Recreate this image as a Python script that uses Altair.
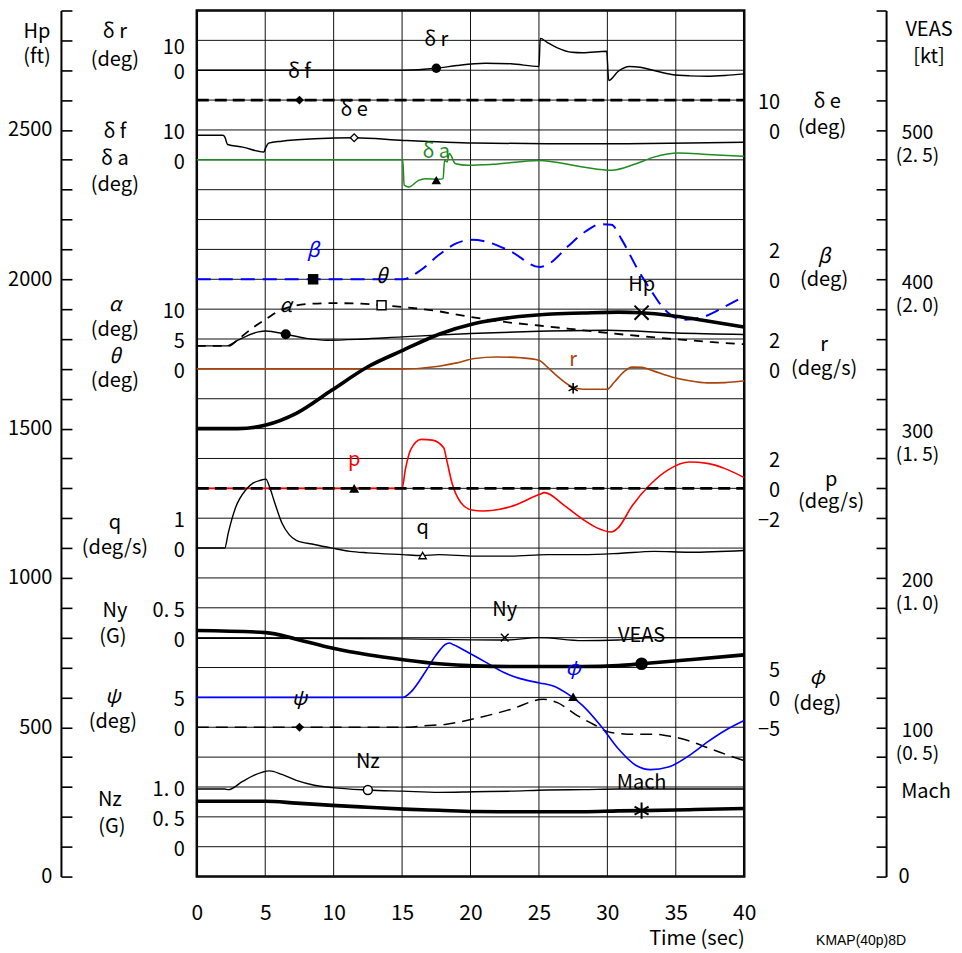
import altair as alt
import pandas as pd

FONT = "Noto Sans CJK JP"
W, H = 548, 867

# ---------------- axis / grid values ----------------
time_ticks = [0, 5, 10, 15, 20, 25, 30, 35, 40]
divisions = list(range(0, 30))          # 1 division = 100 ft = 20 kt = 0.1 Mach
veas_labelled = [5, 10, 15, 20, 25]

# ---------------- time histories ----------------
dr_t = [0, 15, 17.5, 19.0, 21.1, 22.95, 25.0, 25.1, 25.6, 26.35, 27.4, 28.2, 29.95, 30.1, 30.8, 31.6, 32.4, 33.4, 34.7, 36.0, 37.3, 38.6, 40]
dr_v = [0, 0, 0.8, 1.9, 2.8, 2.6, 1.5, 12.8, 11.2, 9.0, 7.2, 7.0, 7.6, -4.1, -0.4, 1.5, 1.2, -0.1, -1.7, -2.25, -2.4, -2.1, -1.45]

df_t = [0, 40]
df_v = [20, 20]

de_t = [0, 1.9, 2.05, 2.25, 3.35, 4.9, 5.05, 5.25, 6.2, 8.6, 11.5, 15.1, 20.3, 25.6, 30.8, 36.0, 40]
de_v = [-1.8, -1.8, -2.4, -4.85, -5.75, -7.4, -5.75, -4.4, -3.75, -2.95, -2.6, -3.5, -4.4, -4.6, -4.6, -4.4, -4.1]

da_t = [0, 15.05, 15.15, 15.5, 16.2, 16.7, 17.7, 18.0, 18.1, 18.3, 18.45, 18.9, 19.8, 21.6, 25.0, 28.2, 30.3, 32.1, 33.4, 35.2, 37.3, 40]
da_v = [0, 0, -8.5, -9.1, -6.9, -6.3, -6.5, -6.3, -0.2, -0.7, 2.1, -1.3, -1.8, -1.5, -0.2, -2.4, -3.5, -1.3, 0.9, 2.3, 1.8, 1.2]

beta_t = [0, 15.06, 16.4, 17.7, 19.0, 20.1, 21.1, 22.95, 25.05, 25.8, 27.1, 28.4, 29.5, 30.3, 31.06, 32.1, 33.15, 34.2, 35.5, 37.1, 38.6, 40]
beta_v = [0, 0, 0.64, 1.64, 2.42, 2.64, 2.53, 1.86, 0.82, 1.08, 2.19, 3.2, 3.69, 3.65, 2.64, 0.86, -0.70, -2.04, -2.71, -2.49, -1.82, -1.15]

alpha_t = [0, 2.2, 3.0, 4.5, 5.05, 6.5, 8.0, 9.5, 12.0, 15.0, 20.0, 25.0, 30.0, 35.0, 40]
alpha_v = [3.85, 3.85, 4.8, 6.2, 6.35, 5.8, 5.1, 4.8, 4.97, 5.35, 5.92, 6.3, 6.47, 6.0, 5.75]

theta_t = [0, 2.3, 3.1, 4.1, 5.1, 6.0, 7.0, 8.3, 10.0, 12.0, 13.5, 15.0, 17.5, 20.0, 22.5, 25.0, 27.5, 30.0, 32.5, 35.0, 37.5, 40]
theta_v = [3.85, 3.85, 5.1, 6.9, 8.4, 9.7, 10.5, 10.9, 11.0, 10.93, 10.65, 10.37, 9.7, 8.7, 7.86, 7.26, 6.64, 6.02, 5.47, 4.97, 4.51, 4.13]

hp_t = [0, 3.0, 5.05, 7.27, 9.88, 12.5, 15.1, 17.7, 20.3, 22.95, 25.6, 28.2, 30.8, 32.5, 35.0, 37.3, 40]
hp_v = [1500, 1500, 1512, 1551, 1629, 1707, 1763, 1816, 1852, 1872, 1883, 1887, 1890, 1888, 1876, 1860, 1840]

r_t = [0, 15.06, 17.7, 19.0, 20.3, 21.9, 23.7, 25.0, 25.6, 26.4, 27.4, 28.2, 30.0, 30.5, 31.2, 31.8, 32.5, 33.4, 34.7, 36.0, 37.3, 38.6, 40]
r_v = [0, 0, 0.18, 0.4, 0.7, 0.8, 0.74, 0.58, 0.13, -0.54, -1.2, -1.36, -1.36, -0.9, -0.2, 0.12, 0.1, -0.15, -0.54, -0.8, -0.94, -0.92, -0.8]

p_t = [0, 15.0, 15.24, 15.63, 16.4, 17.2, 18.04, 18.25, 18.64, 19.3, 20.1, 20.9, 22.95, 25.05, 25.4, 26.9, 28.2, 29.2, 30.3, 30.8, 31.8, 33.15, 34.5, 36.0, 37.3, 38.6, 40]
p_v = [0, 0, 1.27, 2.6, 3.28, 3.23, 2.72, 1.94, 0.38, -0.96, -1.45, -1.52, -1.22, -0.4, -0.29, -1.18, -2.07, -2.63, -2.92, -2.63, -1.18, 0.27, 1.27, 1.76, 1.67, 1.32, 0.72]

pref_t = [0, 40]
pref_v = [0, 0]

q_t = [0, 2.04, 2.3, 2.82, 3.6, 4.13, 4.65, 5.05, 5.3, 5.7, 6.22, 6.75, 7.27, 8.58, 9.88, 11.2, 12.5, 15.06, 16.4, 17.7, 20.3, 22.95, 25.6, 28.2, 30.8, 33.4, 36.0, 40]
q_v = [0, 0, 0.51, 1.34, 1.96, 2.18, 2.27, 2.31, 2.07, 1.51, 0.84, 0.45, 0.26, 0.12, 0.0, -0.11, -0.16, -0.22, -0.25, -0.22, -0.27, -0.27, -0.22, -0.22, -0.18, -0.11, -0.14, -0.08]

ny_t = [0, 5.0, 15.1, 22.5, 25.0, 28.2, 30.8, 33.4, 40]
ny_v = [-0.01, -0.01, -0.02, -0.04, 0.0, -0.05, -0.04, 0.0, 0.0]

veas_t = [0, 5.05, 7.27, 9.88, 12.5, 15.1, 17.7, 20.3, 22.95, 25.6, 28.2, 30.8, 32.5, 36.0, 40]
veas_v = [164.8, 163.4, 159.0, 153.0, 148.5, 145.2, 142.5, 141.1, 140.7, 140.7, 140.7, 141.3, 142.5, 145.2, 148.5]

phi_t = [0, 15.06, 15.63, 16.68, 17.46, 18.25, 18.45, 18.77, 19.8, 21.1, 22.4, 23.7, 25.05, 26.1, 27.1, 28.2, 29.5, 30.8, 32.1, 33.15, 34.46, 36.0, 37.3, 38.6, 40]
phi_v = [0, 0, 0.87, 4.2, 7.0, 9.0, 9.1, 8.8, 7.55, 5.9, 4.2, 3.1, 2.42, 1.87, 0.58, -1.37, -4.7, -8.6, -11.4, -12.1, -11.67, -9.7, -7.5, -5.55, -3.88]

psi_t = [0, 15.6, 16.4, 18.25, 20.3, 22.95, 25.3, 26.35, 27.66, 28.97, 30.27, 32.1, 33.4, 34.7, 36.0, 37.3, 38.6, 40]
psi_v = [0, 0, 0.22, 0.5, 1.45, 3.0, 4.68, 4.13, 2.17, 0.5, -0.89, -1.17, -1.17, -1.56, -2.29, -3.4, -4.5, -5.6]

nz_t = [0, 2.04, 2.3, 3.35, 4.13, 5.3, 6.22, 7.27, 8.58, 9.88, 12.5, 15.06, 17.7, 20.3, 22.95, 25.6, 28.2, 30.8, 40]
nz_v = [0.967, 0.967, 0.955, 1.094, 1.19, 1.27, 1.21, 1.11, 1.03, 0.99, 0.95, 0.93, 0.91, 0.92, 0.93, 0.95, 0.955, 0.967, 0.967]

mach_t = [0, 5.0, 7.27, 9.88, 12.5, 15.1, 17.7, 20.3, 22.95, 25.6, 28.2, 30.8, 32.5, 36.0, 40]
mach_v = [0.252, 0.252, 0.246, 0.2385, 0.232, 0.226, 0.222, 0.218, 0.217, 0.217, 0.217, 0.22, 0.221, 0.224, 0.228]

# channel placement: division = zero_division + divisions_per_unit * value
SCALE = {
    "dr": (27, 1 / 12), "df": (24, 0.1), "da": (24, 0.1), "de": (25, 0.1),
    "beta": (20, 0.5), "alpha": (17, 0.2), "theta": (17, 0.2), "Hp": (0, 0.01),
    "r": (17, 0.5), "p": (13, 0.5), "pref": (13, 0.5), "q": (11, 1.0),
    "Ny": (8, 2.0), "VEAS": (0, 0.05), "phi": (6, 0.2), "psi": (5, 0.2),
    "Nz": (1, 2.0), "Mach": (0, 10.0),
}

BLACK, GREEN, BLUE, BROWN, RED = "#000000", "#1e8c1e", "#0000ff", "#a8440c", "#ff0000"

# key, t, v, color, width, dash
LINES = [
    ("dr", dr_t, dr_v, BLACK, 1.4, None),
    ("df", df_t, df_v, BLACK, 2.6, [12, 6]),
    ("de", de_t, de_v, BLACK, 1.5, None),
    ("da", da_t, da_v, GREEN, 1.5, None),
    ("r", r_t, r_v, BROWN, 1.6, None),
    ("alpha", alpha_t, alpha_v, BLACK, 1.4, None),
    ("theta", theta_t, theta_v, BLACK, 1.8, [9, 7]),
    ("beta", beta_t, beta_v, BLUE, 2.0, [14, 8]),
    ("Hp", hp_t, hp_v, BLACK, 3.6, None),
    ("p", p_t, p_v, RED, 1.6, None),
    ("pref", pref_t, pref_v, BLACK, 2.6, [12, 6]),
    ("q", q_t, q_v, BLACK, 1.4, None),
    ("Ny", ny_t, ny_v, BLACK, 1.4, None),
    ("psi", psi_t, psi_v, BLACK, 1.5, [12, 7]),
    ("phi", phi_t, phi_v, BLUE, 1.6, None),
    ("VEAS", veas_t, veas_v, BLACK, 3.6, None),
    ("Nz", nz_t, nz_v, BLACK, 1.4, None),
    ("Mach", mach_t, mach_v, BLACK, 3.6, None),
]

XMARK = "M-1,-1L1,1M-1,1L1,-1"
STAR = "M0,-1L0,1M-0.87,-0.5L0.87,0.5M-0.87,0.5L0.87,-0.5"

# key, t, v, shape, filled, size, strokeWidth, label, label colour, italic
MARKERS = [
    ("dr", 17.5, 0.8, "circle", True, 90, 1, "δ r", BLACK, False),
    ("df", 7.5, 20, "diamond", True, 80, 1, "δ f", BLACK, False),
    ("de", 11.5, -2.6, "diamond", False, 60, 1.3, "δ e", BLACK, False),
    ("da", 17.5, -6.8, "triangle-up", True, 90, 1, "δ a", GREEN, False),
    ("beta", 8.5, 0, "square", True, 110, 1, "β", BLUE, True),
    ("theta", 13.5, 10.65, "square", False, 80, 1.5, "θ", BLACK, True),
    ("alpha", 6.5, 5.8, "circle", True, 100, 1, "α", BLACK, True),
    ("Hp", 32.5, 1888, XMARK, None, 200, 2.0, "Hp", BLACK, False),
    ("r", 27.5, -1.3, STAR, None, 110, 1.6, "r", BROWN, False),
    ("p", 11.5, 0, "triangle-up", True, 100, 1, "p", RED, False),
    ("q", 16.5, -0.25, "triangle-up", False, 55, 1.3, "q", BLACK, False),
    ("Ny", 22.5, 0, XMARK, None, 60, 1.5, "Ny", BLACK, False),
    ("VEAS", 32.5, 142.5, "circle", True, 160, 1, "VEAS", BLACK, False),
    ("phi", 27.5, 0.1, "triangle-up", True, 100, 1, "φ", BLUE, True),
    ("psi", 7.5, 0, "diamond", True, 80, 1, "ψ", BLACK, True),
    ("Nz", 12.5, 0.95, "circle", False, 80, 1.5, "Nz", BLACK, False),
    ("Mach", 32.5, 0.221, STAR, None, 260, 2.0, "Mach", BLACK, False),
]

# inner scale labels (channel, values, text)
LEFT_VALUES = [
    ("dr", [10, 0], ["10", "0"]),
    ("da", [10, 0], ["10", "0"]),
    ("alpha", [10, 5, 0], ["10", "5", "0"]),
    ("q", [1, 0], ["1", "0"]),
    ("Ny", [0.5, 0], ["0. 5", "0"]),
    ("psi", [5, 0], ["5", "0"]),
    ("Nz", [1.0, 0.5, 0], ["1. 0", "0. 5", "0"]),
]
RIGHT_VALUES = [
    ("de", [10, 0], ["10", "0"]),
    ("beta", [2, 0], ["2", "0"]),
    ("r", [2, 0], ["2", "0"]),
    ("p", [2, 0, -2], ["2", "0", "−2"]),
    ("phi", [5, 0, -5], ["5", "0", "−5"]),
]

XS = alt.Scale(domain=[0, 40], nice=False, zero=False)
YS = alt.Scale(domain=[0, 29], nice=False, zero=False)


def xq(field="t"):
    return alt.X(f"{field}:Q", scale=XS, axis=None)


def yq(field="g"):
    return alt.Y(f"{field}:Q", scale=YS, axis=None)


def gexpr(key):
    g0, k = SCALE[key]
    return f"{g0} + {k} * datum.v"


layers = []

# ---- grid: horizontal divisions carry the Hp tick axis ----
layers.append(
    alt.Chart(pd.DataFrame({"g": divisions})).mark_rule(color="#111111", strokeWidth=1).encode(
        y=alt.Y("g:Q", scale=YS, axis=alt.Axis(
            orient="left", offset=125, values=divisions, domain=False, ticks=True,
            tickSize=11, tickWidth=1.6, tickColor="black", grid=False, title=None,
            labelExpr="datum.value % 5 == 0 ? format(datum.value * 100, 'd') : ''",
            labelFont=FONT, labelFontSize=20, labelColor="black", labelPadding=9,
            labelOverlap=False)))
)
# Hp axis line
layers.append(
    alt.Chart(pd.DataFrame({"g": [0, 29]})).mark_rule(opacity=0).encode(
        y=alt.Y("g:Q", scale=YS, axis=alt.Axis(
            orient="left", offset=136, domain=True, domainColor="black", domainWidth=2,
            ticks=False, labels=False, grid=False, title=None)))
)
# VEAS ticks
layers.append(
    alt.Chart(pd.DataFrame({"g": divisions})).mark_rule(opacity=0).encode(
        y=alt.Y("g:Q", scale=YS, axis=alt.Axis(
            orient="right", offset=132, values=divisions, domain=False, ticks=True,
            tickSize=10, tickWidth=1.6, tickColor="black", labels=False, grid=False, title=None)))
)
# VEAS axis line + labels
layers.append(
    alt.Chart(pd.DataFrame({"g": veas_labelled})).mark_rule(opacity=0).encode(
        y=alt.Y("g:Q", scale=YS, axis=alt.Axis(
            orient="right", offset=142, values=veas_labelled, domain=True, domainColor="black",
            domainWidth=2, ticks=False, grid=False, title=None,
            labelExpr="[format(datum.value * 20, 'd'), '(' + replace(format(datum.value / 10, '.1f'), '.', '. ') + ')']",
            labelAlign="center", labelBaseline="middle", labelOffset=3, labelLineHeight=23,
            labelFont=FONT, labelFontSize=19, labelColor="black", labelPadding=31,
            labelOverlap=False)))
)
# vertical grid + time axis
layers.append(
    alt.Chart(pd.DataFrame({"t": time_ticks})).mark_rule(color="#111111", strokeWidth=1).encode(
        x=alt.X("t:Q", scale=XS, axis=alt.Axis(
            values=time_ticks, ticks=False, domain=False, grid=False, format="d",
            labelFont=FONT, labelFontSize=21, labelColor="black", labelPadding=26,
            labelFlush=False, labelOverlap=False,
            title="Time (sec)", titleFont=FONT, titleFontSize=20, titleFontWeight="normal",
            titleColor="black", titleAnchor="end", titlePadding=5)))
)

# ---- curves ----
for key, t, v, color, width, dash in LINES:
    kw = dict(color=color, strokeWidth=width, interpolate="monotone")
    if dash:
        kw["strokeDash"] = dash
    layers.append(
        alt.Chart(pd.DataFrame({"t": t, "v": v})).mark_line(**kw)
        .transform_calculate(g=gexpr(key)).encode(x=xq(), y=yq())
    )

# ---- markers and curve names ----
for key, t, v, shape, filled, size, sw, label, lcol, ital in MARKERS:
    d = pd.DataFrame({"t": [t], "v": [v], "s": [label]})
    if filled is None:
        mk = dict(shape=shape, filled=False, stroke="black", strokeWidth=sw, size=size, opacity=1)
    elif filled:
        mk = dict(shape=shape, filled=True, fill="black", size=size, opacity=1)
    else:
        mk = dict(shape=shape, filled=True, fill="white", stroke="black", strokeWidth=sw, size=size, opacity=1)
    layers.append(alt.Chart(d).mark_point(**mk).transform_calculate(g=gexpr(key)).encode(x=xq(), y=yq()))
    layers.append(
        alt.Chart(d).mark_text(font=FONT, fontSize=20, color=lcol, dy=-28, align="center", baseline="middle",
                               fontStyle="italic" if ital else "normal")
        .transform_calculate(g=gexpr(key)).encode(x=xq(), y=yq(), text="s:N")
    )

# ---- inner scale numbers ----
for side, table, xpos in (("L", LEFT_VALUES, -12), ("R", RIGHT_VALUES, 584)):
    for key, vals, texts in table:
        d = pd.DataFrame({"v": vals, "s": texts})
        layers.append(
            alt.Chart(d).mark_text(font=FONT, fontSize=20, color="black", align="right", baseline="middle", dy=3)
            .transform_calculate(g=gexpr(key)).encode(x=alt.value(xpos), y=yq(), text="s:N")
        )


def note(text, x, y, size=20, italic=False, font=FONT, align="center"):
    return alt.Chart(pd.DataFrame({"s": [text]})).mark_text(
        font=font, fontSize=size, color="black", align=align, baseline="middle",
        fontStyle="italic" if italic else "normal").encode(x=alt.value(x), y=alt.value(y), text="s:N")


NOTES = [
    ("Hp", -160, 22, False), ("(ft)", -160, 47, False),
    ("δ r", -82, 22, False), ("(deg)", -82, 50, False),
    ("δ f", -82, 122, False), ("δ a", -82, 149, False), ("(deg)", -82, 175, False),
    ("α", -82, 295, True), ("(deg)", -82, 320, False), ("θ", -82, 347, True), ("(deg)", -82, 371, False),
    ("q", -82, 513, False), ("(deg/s)", -82, 538, False),
    ("Ny", -82, 601, False), ("(G)", -84, 627, False),
    ("ψ", -84, 687, True), ("(deg)", -84, 712, False),
    ("Nz", -87, 790, False), ("(G)", -85, 817, False),
    ("δ e", 631, 92, False), ("(deg)", 626, 118, False),
    ("β", 628, 247, True), ("(deg)", 628, 270, False),
    ("r", 628, 335, False), ("(deg/s)", 628, 359, False),
    ("p", 635, 470, False), ("(deg/s)", 635, 492, False),
    ("φ", 621, 668, True), ("(deg)", 621, 694, False),
    ("VEAS", 733, 20, False), ("[kt]", 733, 47, False),
    ("0", 708, 867, False), ("Mach", 730, 782, False),
]
for text, x, y, it in NOTES:
    layers.append(note(text, x, y, italic=it))
layers.append(note("KMAP(40p)8D", 665, 931, size=14, font="Liberation Sans"))

chart = (
    alt.layer(*layers)
    .resolve_axis(x="independent", y="independent")
    .properties(width=W, height=H, autosize=alt.AutoSizeParams(type="none"),
                padding={"left": 189, "top": 2, "right": 210, "bottom": 78})
    .configure_view(stroke="black", strokeWidth=2.5)
)

chart.save("out.html", embed_options={"renderer": "svg", "actions": False})
